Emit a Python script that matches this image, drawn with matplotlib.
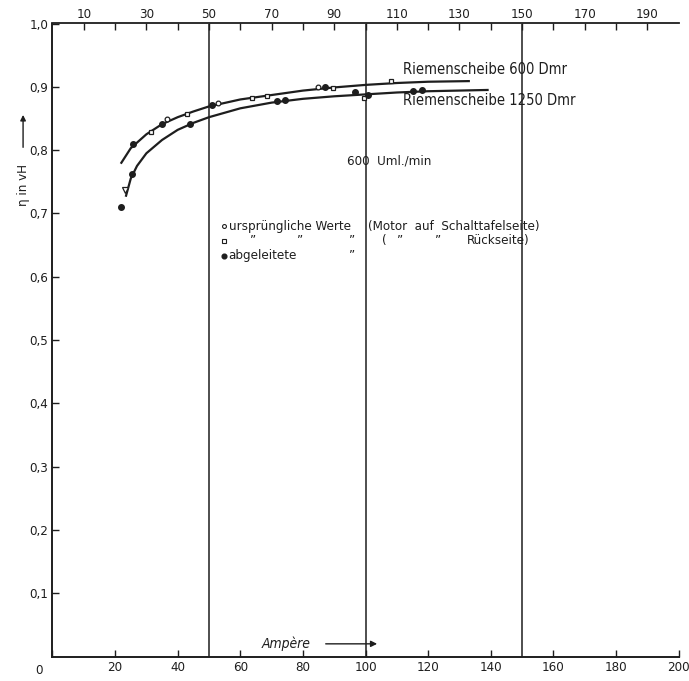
import matplotlib
matplotlib.use("Agg")
import matplotlib.pyplot as plt
from matplotlib.transforms import blended_transform_factory

# ---------------- data ----------------
# smooth curves (Riemenscheibe 600 Dmr = upper, 1250 Dmr = lower)
upper_x = [22, 25, 30, 35, 40, 45, 50, 60, 70, 80, 90, 100, 110, 120, 133]
upper_y = [0.780, 0.803, 0.825, 0.841, 0.852, 0.861, 0.869, 0.880, 0.887,
           0.894, 0.899, 0.903, 0.906, 0.908, 0.909]
lower_x = [23.5, 25, 27, 30, 35, 40, 45, 50, 60, 70, 80, 90, 100, 110, 120, 139]
lower_y = [0.728, 0.755, 0.775, 0.795, 0.816, 0.832, 0.843, 0.852, 0.866,
           0.875, 0.881, 0.885, 0.888, 0.891, 0.893, 0.895]

# measured points
circle_x = [36.7, 52.9, 84.9]
circle_y = [0.849, 0.874, 0.899]
square_x = [31.4, 42.9, 63.6, 68.4, 89.7, 108.1, 99.5]
square_y = [0.829, 0.857, 0.883, 0.885, 0.898, 0.909, 0.883]
dot_x = [25.8, 34.9, 50.9, 87.1, 21.9, 25.3, 43.9, 71.6, 74.3, 96.6, 100.9, 115.3, 118.0]
dot_y = [0.809, 0.841, 0.871, 0.899, 0.710, 0.763, 0.842, 0.878, 0.879, 0.892,
         0.887, 0.894, 0.895]
tri_x = [23.2]
tri_y = [0.737]

grid_x = [50, 100, 150]
bottom_ticks = [0, 20, 40, 60, 80, 100, 120, 140, 160, 180, 200]
top_ticks = [10, 20, 30, 40, 50, 60, 70, 80, 90, 100, 110, 120, 130, 140, 150,
             160, 170, 180, 190]
top_labels = ["10", "", "30", "", "50", "", "70", "", "90", "", "110", "", "130",
              "", "150", "", "170", "", "190"]
y_ticks = [0.1, 0.2, 0.3, 0.4, 0.5, 0.6, 0.7, 0.8, 0.9, 1.0]
y_labels = ["0,1", "0,2", "0,3", "0,4", "0,5", "0,6", "0,7", "0,8", "0,9", "1,0"]

# ---------------- drawing ----------------
INK = "#1e1e1e"
plt.rcParams["font.family"] = ["DejaVu Sans"]
plt.rcParams["font.stretch"] = "condensed"
plt.rcParams["text.color"] = INK

W, H = 689, 681
fig = plt.figure(figsize=(W / 100, H / 100), dpi=100)
fig.patch.set_facecolor("white")
ax = fig.add_axes([52.5 / W, (H - 656.5) / H, 626 / W, 633 / H])
ax.set_xlim(0, 200)
ax.set_ylim(0, 1.0)

for s in ["left", "bottom"]:
    ax.spines[s].set_linewidth(1.4)
    ax.spines[s].set_color(INK)
ax.spines["top"].set_visible(False)
ax.spines["right"].set_visible(False)

for gx in grid_x:
    ax.axvline(gx, color=INK, lw=1.1, zorder=1)

ax.plot(upper_x, upper_y, color=INK, lw=1.6, zorder=3)
ax.plot(lower_x, lower_y, color=INK, lw=1.6, zorder=3)

ax.plot(circle_x, circle_y, "o", ms=3.4, mfc="white", mec=INK, mew=0.9, zorder=4)
ax.plot(square_x, square_y, "s", ms=3.4, mfc="white", mec=INK, mew=0.9, zorder=4)
ax.plot(dot_x, dot_y, "o", ms=4.0, color=INK, zorder=4)
ax.plot(tri_x, tri_y, "v", ms=3.8, mfc="white", mec=INK, mew=0.9, zorder=4)

# ticks
ax.set_xticks(bottom_ticks)
ax.set_xticklabels([""] + [str(t) for t in bottom_ticks[1:]])
ax.set_yticks(y_ticks)
ax.set_yticklabels(y_labels)
ax.tick_params(axis="both", direction="in", length=5, width=1.0, colors=INK,
               labelsize=9.5, pad=3)

sec = ax.secondary_xaxis("top")
sec.set_xticks(top_ticks)
sec.set_xticklabels(top_labels)
sec.tick_params(direction="in", length=5, width=1.0, colors=INK, labelsize=9.5, pad=2)
sec.spines["top"].set_linewidth(1.3)
sec.spines["top"].set_color(INK)

# shared "0" at the corner
ax.text(-0.015, -0.012, "0", transform=ax.transAxes, ha="right", va="top",
        fontsize=9.5)

# curve labels
ax.text(111.9, 0.927, "Riemenscheibe 600 Dmr", fontsize=10.5, va="center", ha="left")
ax.text(111.9, 0.878, "Riemenscheibe 1250 Dmr", fontsize=10.5, va="center", ha="left")
ax.text(94.0, 0.783, "600  Uml./min", fontsize=9.5, va="center", ha="left")

# legend block
ly = [0.680, 0.657, 0.633]
ax.plot([54.8], [ly[0]], "o", ms=2.8, mfc="white", mec=INK, mew=0.8)
ax.plot([54.8], [ly[1]], "s", ms=2.8, mfc="white", mec=INK, mew=0.8)
ax.plot([54.8], [ly[2]], "o", ms=3.4, color=INK)
fs = 9.5
ax.text(56.3, ly[0], "ursprüngliche Werte", fontsize=fs, va="center")
ax.text(100.9, ly[0], "(Motor  auf  Schalttafelseite)", fontsize=fs, va="center")
for dx in [64.1, 79.1, 95.7, 111.0, 123.2]:
    ax.text(dx, ly[1], "\u201d", fontsize=fs, va="center", ha="center")
ax.text(105.2, ly[1], "(", fontsize=fs, va="center")
ax.text(132.3, ly[1], "Rückseite)", fontsize=fs, va="center")
ax.text(56.3, ly[2], "abgeleitete", fontsize=fs, va="center")
ax.text(95.6, ly[2], "\u201d", fontsize=fs, va="center", ha="center")

# x axis title with arrow
ax.text(66.8, 0.020, "Ampère", fontsize=10, va="center", ha="left", style="italic")
ax.annotate("", xy=(104.6, 0.020), xytext=(86.4, 0.020),
            arrowprops=dict(arrowstyle="-|>", color=INK, lw=1.0,
                            mutation_scale=9))

# y axis title with arrow
tr = blended_transform_factory(ax.transAxes, ax.transData)
ax.text(-0.047, 0.745, "\u03b7 in vH", fontsize=9.5, rotation=90,
        transform=tr, ha="center", va="center")
ax.annotate("", xy=(-0.047, 0.86), xytext=(-0.047, 0.80),
            xycoords=tr, textcoords=tr,
            arrowprops=dict(arrowstyle="-|>", color=INK, lw=1.0,
                            mutation_scale=8))

fig.savefig("out.png", dpi=100, facecolor="white")
